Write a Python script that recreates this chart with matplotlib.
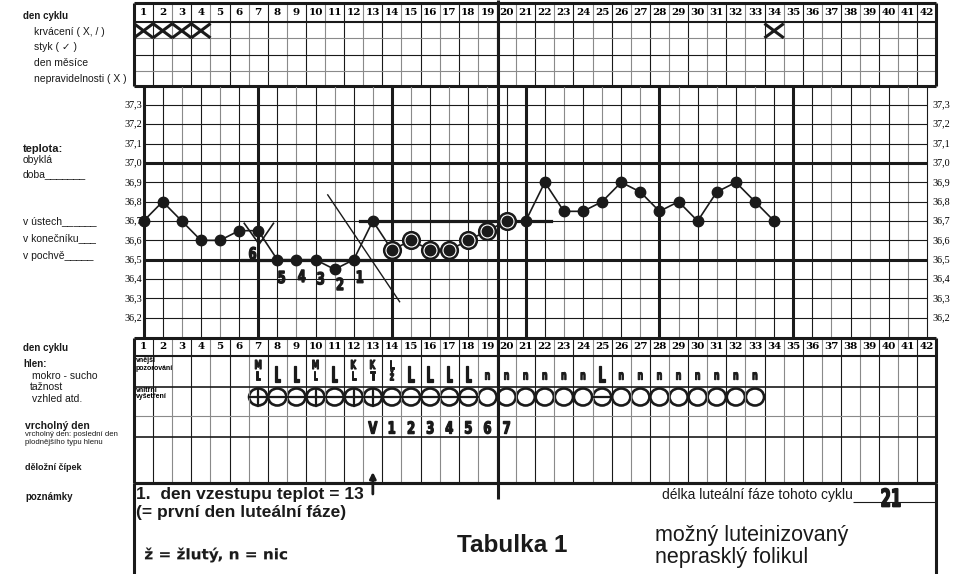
import numpy as np
import matplotlib.pyplot as plt
import matplotlib.transforms as mtransforms
from matplotlib.patches import Ellipse, PathPatch
from matplotlib.textpath import TextPath
from matplotlib.font_manager import FontProperties

plt.rcParams['font.family'] = ['Liberation Sans', 'DejaVu Sans']

W, H = 962, 574
GX0, GX1 = 134.0, 936.5   # left / right edge of day columns (px)
NDAYS = 42

day_numbers = list(range(1, NDAYS + 1))
bleeding_days = [1, 2, 3, 4, 34]

# basal temperature
temp_days = list(range(1, 35))
temps = [36.7, 36.8, 36.7, 36.6, 36.6, 36.65, 36.65, 36.5, 36.5, 36.5,
         36.45, 36.5, 36.7, 36.55, 36.6, 36.55, 36.55, 36.6, 36.65, 36.7,
         36.7, 36.9, 36.75, 36.75, 36.8, 36.9, 36.85, 36.75, 36.8, 36.7,
         36.85, 36.9, 36.8, 36.7]
circled_days = [14, 15, 16, 17, 18, 19, 20]
temp_ticks = [37.3, 37.2, 37.1, 37.0, 36.9, 36.8, 36.7, 36.6, 36.5, 36.4, 36.3, 36.2]
temp_ticklabels = ['37,3', '37,2', '37,1', '37,0', '36,9', '36,8', '36,7',
                   '36,6', '36,5', '36,4', '36,3', '36,2']

# hand-drawn notes on the curve
count_text = ['6', '5', '4', '3', '2', '1']
count_day = [6.71, 8.23, 9.28, 10.27, 11.28, 12.33]
count_temp = [36.533, 36.41, 36.416, 36.404, 36.375, 36.412]
low_line_day, low_line_temp = [6.15, 13.0], [36.5, 36.5]
high_line_day, high_line_temp = [12.35, 22.35], [36.7, 36.7]
slash_day, slash_temp = [10.64, 14.4], [36.835, 36.283]
vmark_day, vmark_temp = [6.27, 7.05, 7.8], [36.688, 36.58, 36.688]

# mucus / cervix / peak
mucus_days = list(range(7, 34))
mucus_marks = ['M\nL', 'L', 'L', 'M\nL', 'L', 'K\nL', 'K\nT', 'L\nž', 'L', 'L', 'L', 'L',
               'n', 'n', 'n', 'n', 'n', 'n', 'L', 'n', 'n', 'n', 'n', 'n', 'n', 'n', 'n']
cervix_marks = ['+', '-', '-', '+', '-', '+', '+', '-', '-', '-', '-', '-',
                'o', 'o', 'o', 'o', 'o', 'o', '-', 'o', 'o', 'o', 'o', 'o', 'o', 'o', 'o']
peak_days = list(range(13, 21))
peak_marks = ['V', '1', '2', '3', '4', '5', '6', '7']
luteal_length = '21'

DARK = '#1a1a1a'
GRAY = '#8a8a8a'
HAND_FP = FontProperties(family='DejaVu Sans', weight='bold')

fig = plt.figure(figsize=(W / 100, H / 100), dpi=100)


def px_axes(x0, y0, x1, y1, z=1):
    ax = fig.add_axes([x0 / W, 1 - y1 / H, (x1 - x0) / W, (y1 - y0) / H])
    ax.set_axis_off()
    ax.set_zorder(z)
    return ax


def hand(axis, x, y, s, size, sx=0.62, ha='center', width=None, stroke=0.7):
    # narrow "handwritten" lettering: a text path squeezed horizontally
    tp = TextPath((0, 0), s, size=size, prop=HAND_FP)
    bb = tp.get_extents()
    k = fig.dpi / 72
    if width is not None:
        sx = width / (bb.width * k)
    x0 = bb.x0 if ha == 'left' else (bb.x0 + bb.x1) / 2
    X, Y = axis.transData.transform((x, y))
    tr = (mtransforms.Affine2D().translate(-x0, -(bb.y0 + bb.y1) / 2)
          .scale(sx * k, k).translate(X, Y))
    p = PathPatch(tp, transform=tr, fc=DARK, ec=DARK, lw=stroke)
    p.set_zorder(20)
    fig.add_artist(p)


def table(y_rows, row_colors, row_lw):
    ax = px_axes(GX0, y_rows[0], GX1, y_rows[-1])
    ax.set_xlim(0.5, NDAYS + 0.5)
    ax.set_ylim(y_rows[-1], y_rows[0])
    for k in range(1, NDAYS):
        ax.vlines(k + 0.5, y_rows[0], y_rows[-1], color=DARK if k % 2 else GRAY,
                  lw=0.8, clip_on=False)
    for y, c, lw in zip(y_rows, row_colors, row_lw):
        ax.hlines(y, 0.5, NDAYS + 0.5, color=c, lw=lw, clip_on=False)
    ax.vlines([0.5, NDAYS + 0.5], y_rows[0], y_rows[-1], color=DARK, lw=2.2, clip_on=False)
    for d in day_numbers:
        ax.text(d, (y_rows[0] + y_rows[1]) / 2, str(d), ha='center', va='center',
                family='DejaVu Serif', weight='bold', fontsize=7.5)
    return ax


# ---- top table
axA = table([3.3, 21.7, 38.3, 55, 70.7, 85.7],
            [DARK, DARK, GRAY, DARK, GRAY, DARK], [2.2, 1.5, 0.8, 0.8, 0.8, 2.2])
for d in bleeding_days:
    axA.plot([d - 0.44, d + 0.44], [24.5, 37], color=DARK, lw=2.2, clip_on=False)
    axA.plot([d - 0.44, d + 0.44], [37, 24.5], color=DARK, lw=2.2, clip_on=False)

# ---- temperature chart
axT = px_axes(GX0, 86.7, GX1, 337.7)
axT.set_xlim(0.5, NDAYS + 0.5)
axT.set_ylim(36.097, 37.394)
for d in day_numbers:
    thick = d in (1, 7, 14, 21, 28, 35)
    axT.axvline(d, color=DARK if (thick or d % 2 == 0) else GRAY, lw=2.2 if thick else 0.8)
for t, lab in zip(temp_ticks, temp_ticklabels):
    major = round(t * 10) % 5 == 0
    axT.hlines(t, 1, NDAYS, color=DARK, lw=2.2 if major else 0.8)
    axT.text(0.94, t, lab, ha='right', va='center', family='Liberation Serif', fontsize=7.3)
    axT.text(42.28, t, lab, ha='left', va='center', family='Liberation Serif', fontsize=7.3)

axT.plot(low_line_day, low_line_temp, color=DARK, lw=2.3, zorder=2)
axT.plot(high_line_day, high_line_temp, color=DARK, lw=2.3, zorder=2)
axT.plot(slash_day, slash_temp, color=DARK, lw=1.0, zorder=2)
axT.plot(vmark_day, vmark_temp, color=DARK, lw=1.2, zorder=2)

axT.plot(temp_days, temps, '-', color=DARK, lw=1.2, zorder=3)
ring_temps = [temps[temp_days.index(d)] for d in circled_days]
axT.plot(circled_days, ring_temps, 'o', ms=12, mfc='white', mec=DARK, mew=1.8, zorder=4)
axT.plot(temp_days, temps, 'o', ms=7.5, color=DARK, lw=0, zorder=5)

# ---- lower table
axL = table([337.7, 355.7, 386.7, 416, 436.7, 483.3],
            [DARK, DARK, DARK, GRAY, DARK, DARK], [2.2, 1.5, 1.2, 0.8, 1.2, 2.2])
axL.text(0.6, 361, 'vnější', fontsize=5, weight='bold', ha='left', va='center')
axL.text(0.6, 368, 'pozorování', fontsize=5, weight='bold', ha='left', va='center')
axL.text(0.6, 391, 'vnitřní', fontsize=5, weight='bold', ha='left', va='center')
axL.text(0.6, 397, 'vyšetření', fontsize=5, weight='bold', ha='left', va='center')

for d, m in zip(mucus_days, cervix_marks):
    axL.add_patch(Ellipse((d, 397), 0.95, 17, fill=False, lw=1.9, ec=DARK))
    if m in '+-':
        axL.plot([d - 0.48, d + 0.48], [397, 397], color=DARK, lw=1.6)
    if m == '+':
        axL.plot([d, d], [388.5, 405.5], color=DARK, lw=1.6)

axL.annotate('', xy=(13, 472), xytext=(13, 494), annotation_clip=False,
             arrowprops=dict(arrowstyle='-|>', color=DARK, lw=2, mutation_scale=9,
                             shrinkA=0, shrinkB=0))

# ---- overlay: frame, labels, notes
ax = px_axes(0, 0, W, H, z=10)
ax.set_xlim(0, W)
ax.set_ylim(H, 0)
ax.vlines(498.5, 0, 499, color=DARK, lw=2.2)
ax.hlines(483.3, GX0, GX1, color=DARK, lw=2.2)
ax.vlines([GX0, GX1], 483.3, H, color=DARK, lw=2.2)


def lab(x, y, s, size=7.5, bold=False, **kw):
    ax.text(x, y, s, fontsize=size, weight='bold' if bold else 'normal',
            ha='left', va='center', color=DARK, **kw)


lab(22.7, 16.3, 'den cyklu', 7, True)
lab(34, 32, 'krvácení ( X, / )')
lab(34, 47.5, 'styk ( ✓ )')
lab(34, 62.7, 'den měsíce')
lab(34, 79, 'nepravidelnosti ( X )')
lab(23, 149, 'teplota:', 8, True)
lab(23, 160, 'obyklá')
lab(23, 174, 'doba_______')
lab(23, 221, 'v ústech______')
lab(23, 238, 'v konečníku___')
lab(23, 256, 'v pochvě_____')
lab(23.3, 348, 'den cyklu', 7, True)
lab(23.3, 364, 'hlen:', 7, True)
lab(31.7, 376, 'mokro - sucho')
lab(30, 387, 'tažnost')
lab(31.7, 398.5, 'vzhled atd.')
lab(25, 426, 'vrcholný den', 7.5, True)
lab(25, 434.5, 'vrcholný den: poslední den', 5.6)
lab(25, 442, 'plodnějšího typu hlenu', 5.6)
lab(25, 467, 'děložní čípek', 6.5, True)
lab(25, 497, 'poznámky', 7, True)

lab(136, 494, '1.  den vzestupu teplot = 13', 12.5, True)
lab(136, 512, '(= první den luteální fáze)', 12.5, True)
ax.text(512, 545, 'Tabulka 1', fontsize=17.5, weight='bold', ha='center', va='center', color=DARK)
ax.text(853, 495, 'délka luteální fáze tohoto cyklu', fontsize=10, ha='right', va='center', color=DARK)
ax.hlines(501.7, 853, 935, color=DARK, lw=0.8)
lab(655, 535, 'možný luteinizovaný', 15.5)
lab(655, 557, 'neprasklý folikul', 15.5)

# ---- handwritten entries (squeezed text paths)
for s, x, y in zip(count_text, count_day, count_temp):
    hand(axT, x, y, s, 12, sx=0.7, stroke=0.9)

for d, m in zip(mucus_days, mucus_marks):
    parts = m.split('\n')
    if len(parts) == 2:
        hand(axL, d, 364.5, parts[0], 9, sx=0.6)
        hand(axL, d, 375.5, parts[1], 9, sx=0.6)
    elif m == 'n':
        hand(axL, d, 376, m, 9.5, sx=0.6)
    else:
        hand(axL, d, 374, m, 15, sx=0.5, stroke=0.9)

for d, s in zip(peak_days, peak_marks):
    hand(axL, d, 427.5, s, 12, sx=0.7, stroke=0.9)

hand(ax, 145, 555, 'ž = žlutý, n = nic', 10.5, ha='left', width=142, stroke=0.1)
hand(ax, 891, 497.5, luteal_length, 17.8, width=18.5, stroke=1.0)

fig.savefig('out.png', dpi=100)
